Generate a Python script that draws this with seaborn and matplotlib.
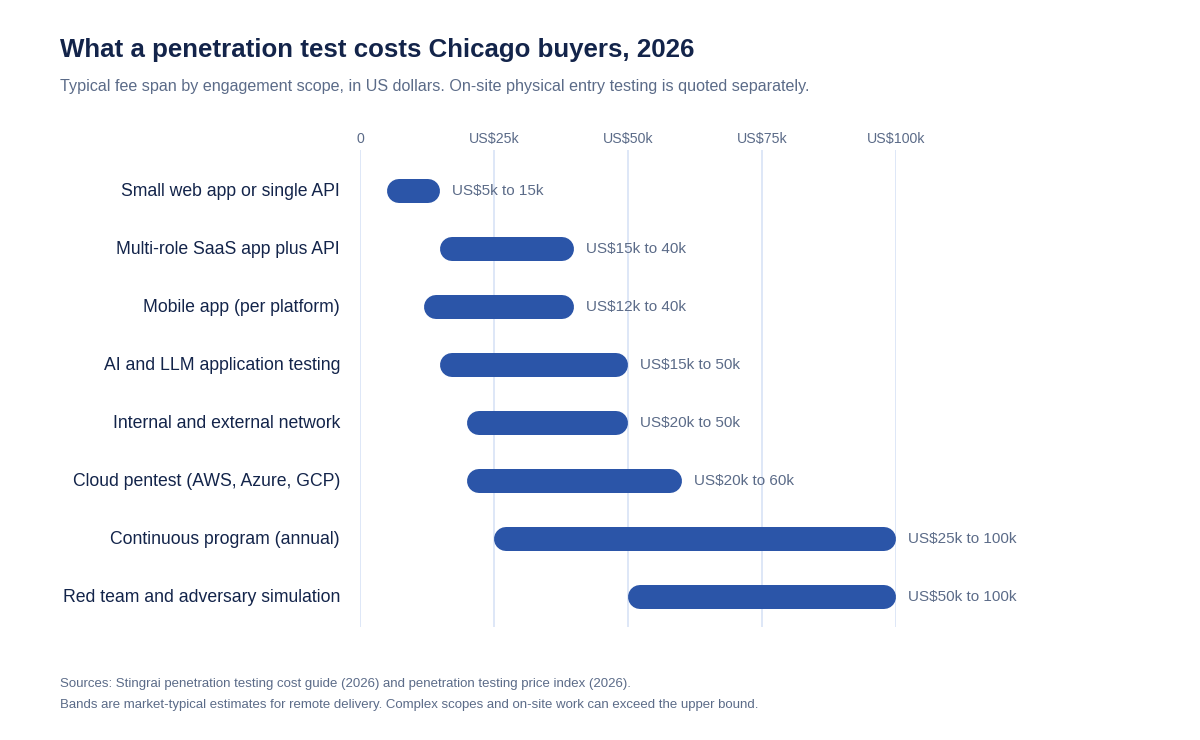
import seaborn as sns
import matplotlib.pyplot as plt
import pandas as pd

# -----------------------------
# Data (US$ thousands)
# -----------------------------
scopes = [
    "Small web app or single API",
    "Multi-role SaaS app plus API",
    "Mobile app (per platform)",
    "AI and LLM application testing",
    "Internal and external network",
    "Cloud pentest (AWS, Azure, GCP)",
    "Continuous program (annual)",
    "Red team and adversary simulation",
]
low_k = [5, 15, 12, 15, 20, 20, 25, 50]
high_k = [15, 40, 40, 50, 50, 60, 100, 100]
tick_values = [0, 25, 50, 75, 100]
tick_labels = ["0", "US$25k", "US$50k", "US$75k", "US$100k"]

title = "What a penetration test costs Chicago buyers, 2026"
subtitle = ("Typical fee span by engagement scope, in US dollars. "
            "On-site physical entry testing is quoted separately.")
notes = [
    "Sources: Stingrai penetration testing cost guide (2026) and penetration testing price index (2026).",
    "Bands are market-typical estimates for remote delivery. Complex scopes and on-site work can exceed the upper bound.",
]

df = pd.DataFrame({"scope": scopes, "low": low_k, "high": high_k})

NAVY = "#13244a"
MUTED = "#5b6b88"
BAR = "#2b55a8"
GRID = "#dbe5f7"

sns.set_theme(style="white")
plt.rcParams["font.family"] = ["Liberation Sans", "DejaVu Sans"]

fig = plt.figure(figsize=(12, 7.4), dpi=100)
ax = fig.add_axes([0.3, 0.1527, 0.4467, 0.6446])
ax.set_xlim(0, 100)
ax.set_ylim(len(df) - 1 + 0.517, -0.707)

# vertical gridlines
for v in tick_values:
    ax.axvline(v, color=GRID, lw=1.3, zorder=0)

# bar thickness 24 px, rounded ends kept inside the range
bar_px = 24
lw_pt = bar_px * 72 / fig.dpi
px_per_k = ax.get_position().width * fig.get_figwidth() * fig.dpi / 100
cap_k = (bar_px / 2) / px_per_k

for i, row in df.iterrows():
    ax.plot([row["low"] + cap_k, row["high"] - cap_k], [i, i],
            color=BAR, lw=lw_pt, solid_capstyle="round", zorder=2)
    ax.text(row["high"] + 12 / px_per_k, i,
            f"US${row['low']}k to {row['high']}k",
            va="center", ha="left", fontsize=11, color=MUTED)
    ax.text(-20 / px_per_k, i, row["scope"], va="center", ha="right",
            fontsize=12.7, color=NAVY)

ax.set_xticks(tick_values)
ax.set_xticklabels(tick_labels, fontsize=10.2, color=MUTED)
ax.xaxis.tick_top()
ax.tick_params(axis="x", length=0, pad=3)
ax.set_yticks([])
sns.despine(ax=ax, left=True, bottom=True, top=True, right=True)
ax.patch.set_alpha(0)

fig.text(60 / 1200, 1 - 50 / 740, title, fontsize=18.6, fontweight="bold",
         color=NAVY, va="center", ha="left")
fig.text(60 / 1200, 1 - 87 / 740, subtitle, fontsize=11.65, color=MUTED,
         va="center", ha="left")
fig.text(60 / 1200, 1 - 684 / 740, notes[0], fontsize=9.5, color=MUTED,
         va="center", ha="left")
fig.text(60 / 1200, 1 - 705 / 740, notes[1], fontsize=9.5, color=MUTED,
         va="center", ha="left")

fig.savefig("out.png", dpi=100, facecolor="white")
